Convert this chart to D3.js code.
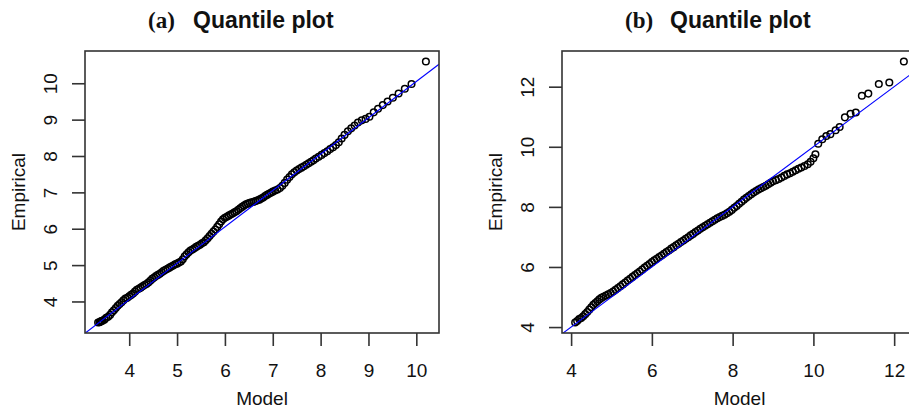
<!DOCTYPE html>
<html>
<head>
<meta charset="utf-8">
<script src="https://cdn.jsdelivr.net/npm/d3@7"></script>
<style>
  body { margin: 0; background: #fff; }
  text { font-family: "Liberation Sans", Arial, sans-serif; fill: #111; }
</style>
</head>
<body>
<div id="chart"></div>
<script>
// data

// (a) model quantiles and empirical quantiles
var modelA = [3.35, 3.38, 3.40, 3.42, 3.44, 3.48, 3.52, 3.56, 3.60, 3.64, 3.68, 3.72, 3.76, 3.80, 3.84, 3.88, 3.92, 3.96,
  4.00, 4.04, 4.08, 4.12, 4.16, 4.20, 4.24, 4.28, 4.32, 4.36, 4.40, 4.44, 4.48, 4.52, 4.56, 4.60, 4.64, 4.68,
  4.72, 4.76, 4.80, 4.84, 4.88, 4.92, 4.96, 5.00, 5.04, 5.08, 5.12, 5.16, 5.20, 5.24, 5.28, 5.32, 5.36, 5.40,
  5.44, 5.48, 5.52, 5.56, 5.60, 5.64, 5.68, 5.72, 5.76, 5.80, 5.84, 5.88, 5.92, 5.96, 6.00, 6.04, 6.08, 6.12,
  6.16, 6.20, 6.24, 6.28, 6.32, 6.36, 6.40, 6.44, 6.48, 6.52, 6.56, 6.60, 6.64, 6.68, 6.72, 6.76, 6.80, 6.84,
  6.88, 6.92, 6.96, 7.00, 7.05, 7.10, 7.15, 7.20, 7.25, 7.30, 7.35, 7.40, 7.45, 7.50, 7.55, 7.60, 7.65, 7.70,
  7.75, 7.80, 7.85, 7.90, 7.96, 8.02, 8.08, 8.14, 8.20, 8.26, 8.32, 8.38, 8.44, 8.50, 8.57, 8.64, 8.71, 8.78,
  8.86, 8.94, 9.02, 9.11, 9.20, 9.30, 9.40, 9.51, 9.63, 9.76, 9.90, 10.20];
var empA = [3.42, 3.43, 3.45, 3.46, 3.47, 3.50, 3.55, 3.58, 3.63, 3.70, 3.76, 3.82, 3.88, 3.93, 3.98, 4.03, 4.08, 4.10,
  4.14, 4.18, 4.22, 4.27, 4.32, 4.35, 4.38, 4.42, 4.45, 4.48, 4.52, 4.57, 4.62, 4.66, 4.70, 4.73, 4.76, 4.80,
  4.84, 4.87, 4.90, 4.93, 4.96, 4.99, 5.02, 5.04, 5.07, 5.10, 5.16, 5.24, 5.30, 5.35, 5.40, 5.43, 5.46, 5.50,
  5.53, 5.56, 5.60, 5.63, 5.68, 5.74, 5.80, 5.86, 5.92, 5.98, 6.05, 6.12, 6.20, 6.26, 6.30, 6.33, 6.36, 6.39,
  6.42, 6.45, 6.48, 6.52, 6.56, 6.60, 6.64, 6.67, 6.69, 6.71, 6.73, 6.74, 6.76, 6.78, 6.80, 6.83, 6.86, 6.90,
  6.93, 6.96, 6.99, 7.02, 7.05, 7.08, 7.12, 7.18, 7.26, 7.35, 7.42, 7.50, 7.55, 7.60, 7.64, 7.68, 7.72, 7.76,
  7.80, 7.84, 7.88, 7.93, 7.98, 8.03, 8.08, 8.13, 8.19, 8.24, 8.30, 8.38, 8.48, 8.58, 8.68, 8.76, 8.84, 8.92,
  8.98, 9.02, 9.08, 9.20, 9.30, 9.40, 9.50, 9.60, 9.72, 9.85, 9.98, 10.60];

// (b) model quantiles and empirical quantiles
var modelB = [4.10, 4.15, 4.20, 4.25, 4.30, 4.35, 4.40, 4.45, 4.50, 4.55, 4.60, 4.65, 4.70, 4.75, 4.80, 4.86,
  4.92, 4.98, 5.04, 5.10, 5.16, 5.22, 5.28, 5.34, 5.40, 5.46, 5.52, 5.58, 5.64, 5.70, 5.76, 5.82, 5.88, 5.94,
  6.00, 6.06, 6.12, 6.18, 6.24, 6.30, 6.36, 6.42, 6.48, 6.54, 6.60, 6.66, 6.72, 6.78, 6.84, 6.90, 6.96, 7.02,
  7.08, 7.14, 7.20, 7.26, 7.32, 7.38, 7.44, 7.50, 7.56, 7.62, 7.68, 7.74, 7.80, 7.86, 7.92, 7.98, 8.04, 8.10,
  8.16, 8.22, 8.28, 8.34, 8.40, 8.46, 8.52, 8.58, 8.64, 8.70, 8.76, 8.82, 8.88, 8.94, 9.00, 9.07, 9.14, 9.21,
  9.28, 9.35, 9.42, 9.49, 9.56, 9.63, 9.70, 9.78, 9.86, 9.93, 10.00, 10.05, 10.12, 10.22, 10.32, 10.42, 10.55,
  10.65, 10.78, 10.92, 11.05, 11.20, 11.36, 11.62, 11.88, 12.24];
var empB = [4.15, 4.20, 4.27, 4.30, 4.36, 4.43, 4.50, 4.58, 4.66, 4.74, 4.80, 4.86, 4.92, 4.97, 5.01, 5.05,
  5.09, 5.13, 5.18, 5.24, 5.30, 5.36, 5.42, 5.48, 5.55, 5.61, 5.67, 5.73, 5.79, 5.85, 5.91, 5.98, 6.04, 6.10,
  6.16, 6.22, 6.27, 6.33, 6.38, 6.44, 6.50, 6.55, 6.61, 6.66, 6.72, 6.77, 6.83, 6.88, 6.94, 6.99, 7.05, 7.10,
  7.16, 7.21, 7.27, 7.32, 7.37, 7.42, 7.47, 7.52, 7.57, 7.62, 7.66, 7.70, 7.74, 7.79, 7.84, 7.90, 7.97, 8.03,
  8.10, 8.17, 8.24, 8.30, 8.36, 8.42, 8.48, 8.53, 8.58, 8.62, 8.66, 8.70, 8.75, 8.80, 8.85, 8.89, 8.93, 8.98,
  9.03, 9.08, 9.12, 9.17, 9.22, 9.27, 9.31, 9.36, 9.42, 9.50, 9.62, 9.75, 10.10, 10.25, 10.36, 10.42, 10.55,
  10.66, 10.98, 11.10, 11.14, 11.70, 11.77, 12.09, 12.14, 12.84];

// tick labels
var xTicksA = [4, 5, 6, 7, 8, 9, 10];
var yTicksA = [4, 5, 6, 7, 8, 9, 10];
var xTicksB = [4, 6, 8, 10, 12];
var yTicksB = [4, 6, 8, 10, 12];

// reference line: [intercept, slope]
var lineA = [0.05, 1];
var lineB = [0, 1];

var svgWidth = 909;
var svgHeight = 412;

var svg = d3.select("#chart")
  .append("svg")
  .attr("width", svgWidth)
  .attr("height", svgHeight);

// R style range: data extent padded by 4% each side
function padded(arr) {
  var ext = d3.extent(arr);
  var p = (ext[1] - ext[0]) * 0.04;
  return [ext[0] - p, ext[1] + p];
}

function panel(id, box, xs, ys, xTicks, yTicks, ab, tag, titleX) {
  var xScale = d3.scaleLinear().domain(padded(xs)).range([box.left, box.right]);
  var yScale = d3.scaleLinear().domain(padded(ys)).range([box.bottom, box.top]);

  var g = svg.append("g");

  g.append("clipPath").attr("id", "clip" + id)
    .append("rect")
    .attr("x", box.left).attr("y", box.top)
    .attr("width", box.right - box.left).attr("height", box.bottom - box.top);

  // points
  g.append("g").selectAll("circle")
    .data(xs)
    .enter()
    .append("circle")
    .attr("cx", (d, i) => xScale(d))
    .attr("cy", (d, i) => yScale(ys[i]))
    .attr("r", 3.3)
    .attr("fill", "none")
    .attr("stroke", "#000")
    .attr("stroke-width", 1.5);

  // blue reference line
  var dx = xScale.domain();
  g.append("line")
    .attr("clip-path", "url(#clip" + id + ")")
    .attr("x1", xScale(dx[0])).attr("y1", yScale(ab[0] + ab[1] * dx[0]))
    .attr("x2", xScale(dx[1])).attr("y2", yScale(ab[0] + ab[1] * dx[1]))
    .attr("stroke", "#0000ff")
    .attr("stroke-width", 1.1);

  // box
  g.append("rect")
    .attr("x", box.left).attr("y", box.top)
    .attr("width", box.right - box.left).attr("height", box.bottom - box.top)
    .attr("fill", "none")
    .attr("stroke", "#333")
    .attr("stroke-width", 1.6);

  // axes
  var xAxis = d3.axisBottom(xScale).tickValues(xTicks).tickSize(13).tickPadding(18).tickSizeOuter(0);
  var yAxis = d3.axisLeft(yScale).tickValues(yTicks).tickSize(13).tickPadding(0).tickSizeOuter(0);

  var gx = g.append("g")
    .attr("transform", `translate(0, ${box.bottom})`)
    .call(xAxis);
  gx.select(".domain").remove();
  gx.selectAll("line").attr("stroke", "#333").attr("stroke-width", 1.6);
  gx.selectAll("text")
    .attr("font-size", "19px")
    .attr("font-family", "Liberation Sans, Arial, sans-serif")
    .attr("fill", "#111")
    .attr("dy", null)
    .attr("y", 377 - box.bottom);

  var gy = g.append("g")
    .attr("transform", `translate(${box.left}, 0)`)
    .call(yAxis);
  gy.select(".domain").remove();
  gy.selectAll("line").attr("stroke", "#333").attr("stroke-width", 1.6);
  gy.selectAll("text")
    .attr("font-size", "19px")
    .attr("font-family", "Liberation Sans, Arial, sans-serif")
    .attr("fill", "#111")
    .attr("x", null).attr("dy", null)
    .attr("text-anchor", "middle")
    .attr("transform", "translate(-28, 0) rotate(-90)");

  // axis titles
  g.append("text")
    .attr("text-anchor", "middle")
    .attr("font-size", "19px")
    .attr("x", (box.left + box.right) / 2)
    .attr("y", 405)
    .text("Model");

  g.append("text")
    .attr("text-anchor", "middle")
    .attr("font-size", "19px")
    .attr("transform", `translate(${box.left - 60}, ${(box.top + box.bottom) / 2}) rotate(-90)`)
    .text("Empirical");

  // title
  g.append("text")
    .attr("x", titleX)
    .attr("y", 28)
    .attr("font-size", "23px")
    .attr("font-weight", "bold")
    .style("font-family", "Liberation Serif, Times New Roman, serif")
    .text(tag);

  g.append("text")
    .attr("x", titleX + 45)
    .attr("y", 28)
    .attr("font-size", "23px")
    .attr("font-weight", "bold")
    .text("Quantile plot");
}

panel("a", {left: 85, right: 439, top: 51, bottom: 333}, modelA, empA, xTicksA, yTicksA, lineA, "(a)", 148);
panel("b", {left: 562, right: 917, top: 51, bottom: 333}, modelB, empB, xTicksB, yTicksB, lineB, "(b)", 625);
</script>
</body>
</html>
